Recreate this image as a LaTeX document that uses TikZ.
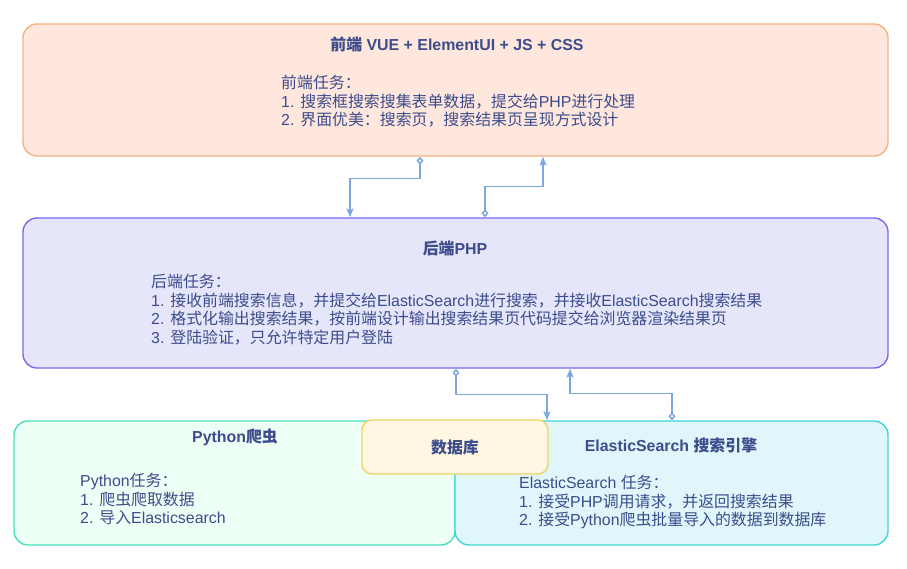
\documentclass[tikz,border=0pt]{standalone}
\usepackage{fontspec}
\setmainfont{Liberation Sans}
\newfontfamily\latinfont{Liberation Sans}
\newfontfamily\cjkfont{Noto Sans CJK SC}
\usetikzlibrary{arrows.meta}
\XeTeXinterchartokenstate=1
\newXeTeXintercharclass\CJKcls
\def\setcjkrange#1#2{\count255=#1 \loop\XeTeXcharclass\count255=\CJKcls\relax\ifnum\count255<#2 \advance\count255 by 1 \repeat}
\setcjkrange{"4E00}{"9FFF}
\setcjkrange{"3000}{"303F}
\setcjkrange{"FF00}{"FFEF}
\XeTeXinterchartoks 0 \CJKcls = {\cjkfont}
\XeTeXinterchartoks 4095 \CJKcls = {\cjkfont}
\XeTeXinterchartoks \CJKcls 0 = {\latinfont}
\XeTeXinterchartoks \CJKcls 4095 = {\latinfont}
\definecolor{txt}{HTML}{3C4C8C}
\definecolor{feFill}{HTML}{FFE7DD}
\definecolor{feLine}{HTML}{F7B27F}
\definecolor{beFill}{HTML}{E6E6FA}
\definecolor{beLine}{HTML}{7B68EE}
\definecolor{pyFill}{HTML}{EEFFF6}
\definecolor{pyLine}{HTML}{4ADFC0}
\definecolor{esFill}{HTML}{DFF7FA}
\definecolor{esLine}{HTML}{3ED6D6}
\definecolor{dbFill}{HTML}{FFF7E1}
\definecolor{dbLine}{HTML}{F2D264}
\definecolor{conn}{HTML}{7EA6E0}
\tikzset{
  box/.style={draw, line width=1.4pt, rounded corners=14pt, inner sep=0pt},
  ttl/.style={font=\fontsize{15.9}{18}\selectfont\bfseries, text=txt, inner sep=0pt},
  body/.style={font=\fontsize{15.9}{18.5}\selectfont, text=txt, align=left, anchor=north west, inner sep=0pt},
  conn/.style={draw=conn, line width=1.5pt,
    {Diamond[open, fill=white, length=8pt, width=7pt]}-{Stealth[length=9pt, width=7pt, inset=2pt]}}
}
\begin{document}
\begin{tikzpicture}[x=1pt,y=-1pt]
\useasboundingbox (0,0) rectangle (907,569);
\fill[white] (0,0) rectangle (907,569);
% boxes
\node[box, fill=feFill, draw=feLine, minimum width=865pt, minimum height=132pt] (front) at (455.5,90) {};
\node[box, fill=beFill, draw=beLine, minimum width=865pt, minimum height=150pt] (back) at (455.5,293) {};
\node[box, fill=pyFill, draw=pyLine, minimum width=441pt, minimum height=124pt] (py) at (234.5,483) {};
\node[box, fill=esFill, draw=esLine, minimum width=433pt, minimum height=124pt] (es) at (671.5,483) {};
\node[box, fill=dbFill, draw=dbLine, minimum width=186pt, minimum height=54pt, rounded corners=10pt] (db) at (455,447) {};
% titles
\node[ttl] (frontT) at (457,44) {前端 VUE + ElementUI + JS + CSS};
\node[ttl] (backT) at (455,248.5) {后端PHP};
\node[ttl] (pyT) at (235,437) {Python爬虫};
\node[ttl] (esT) at (671,445) {ElasticSearch 搜索引擎};
\node[ttl] (dbT) at (455,447) {数据库};
% bodies
\node[body] (frontB) at (281,75) {前端任务：\\1. 搜索框搜索搜集表单数据，提交给PHP进行处理\\2. 界面优美：搜索页，搜索结果页呈现方式设计};
\node[body] (backB) at (151,274) {后端任务：\\1. 接收前端搜索信息，并提交给ElasticSearch进行搜索，并接收ElasticSearch搜索结果\\2. 格式化输出搜索结果，按前端设计输出搜索结果页代码提交给浏览器渲染结果页\\3. 登陆验证，只允许特定用户登陆};
\node[body] (pyB) at (80,473) {Python任务：\\1. 爬虫爬取数据\\2. 导入Elasticsearch};
\node[body] (esB) at (519,475) {ElasticSearch 任务：\\1. 接受PHP调用请求，并返回搜索结果\\2. 接受Python爬虫批量导入的数据到数据库};
% connectors
\draw[conn] ([xshift=-35.5pt]front.south) -- ++(0,22) -| ([xshift=-105.5pt]back.north);
\draw[conn] ([xshift=29.5pt]back.north) -- ++(0,-31) -| ([xshift=87.5pt]front.south);
\draw[conn] ([xshift=0.5pt]back.south) -- ++(0,26) -| ([xshift=-124.5pt]es.north);
\draw[conn] ([xshift=0.5pt]es.north) -- ++(0,-27) -| ([xshift=114.5pt]back.south);
\end{tikzpicture}
\end{document}
